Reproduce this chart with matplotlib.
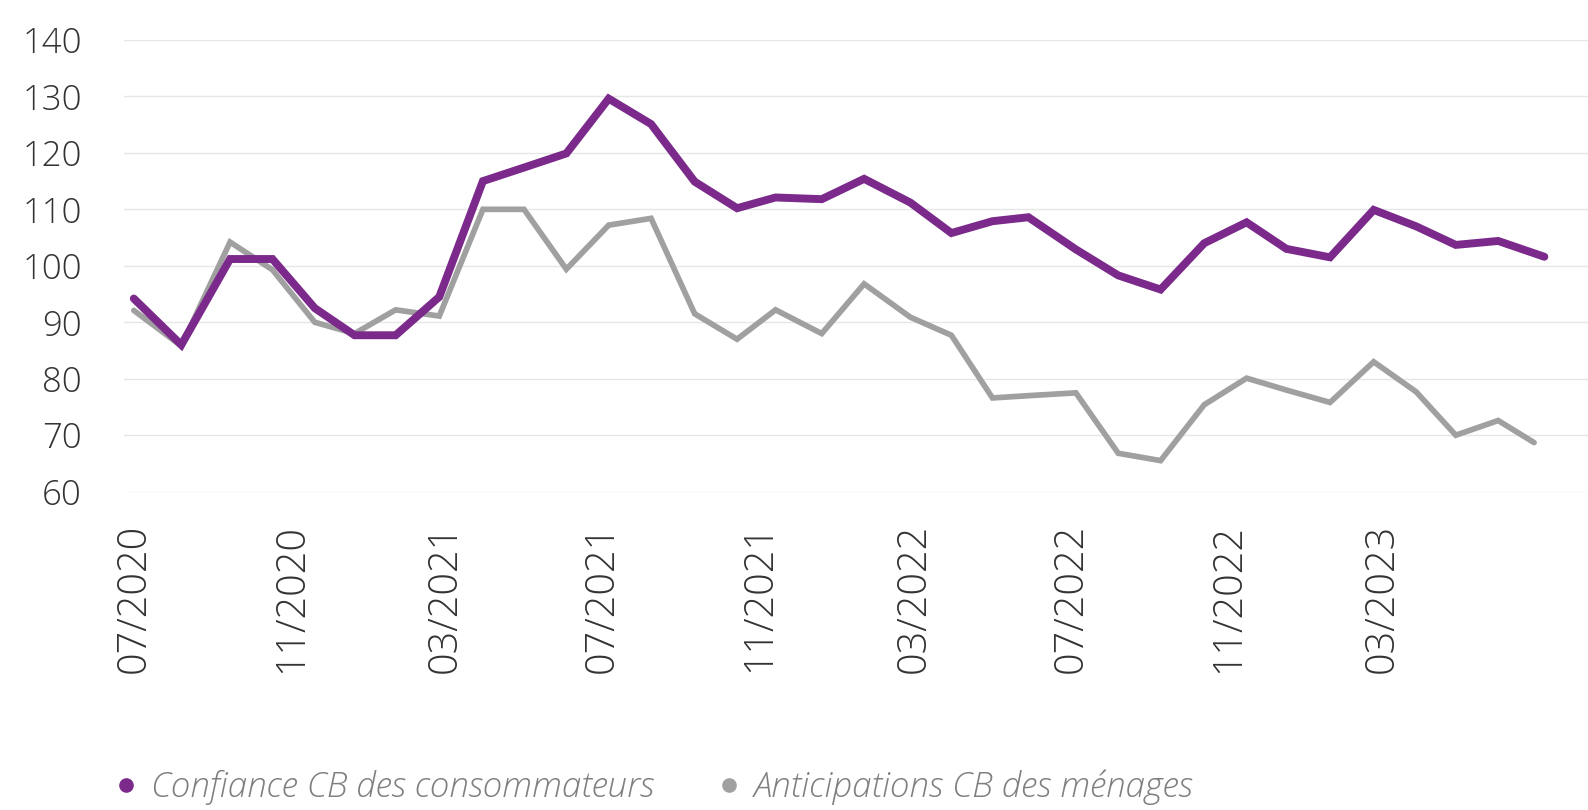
import pandas as pd
import matplotlib
matplotlib.use('Agg')
import matplotlib.pyplot as plt
import matplotlib.dates as mdates
from matplotlib.lines import Line2D

purple = '#7B2A8B'
grey = '#A0A0A0'

# dates (points are not evenly monthly)
dates = ['2020-07-01', '2020-08-07', '2020-09-14', '2020-10-17', '2020-11-19', '2020-12-20',
         '2021-01-21', '2021-02-24', '2021-03-30', '2021-05-01', '2021-06-03', '2021-07-06',
         '2021-08-08', '2021-09-11', '2021-10-14', '2021-11-13', '2021-12-19', '2022-01-21',
         '2022-02-26', '2022-03-30', '2022-05-01', '2022-05-29', '2022-07-05', '2022-08-07',
         '2022-09-09', '2022-10-13', '2022-11-15', '2022-12-16', '2023-01-19', '2023-02-22',
         '2023-03-27', '2023-04-27', '2023-05-30']
last_date_conf = '2023-07-05'
last_date_antic = '2023-06-27'

confiance = [94.2, 86.0, 101.2, 101.2, 92.5, 87.7, 87.7, 94.5, 115.0, 117.4, 119.9, 129.6,
             125.1, 114.9, 110.2, 112.1, 111.8, 115.4, 111.2, 105.8, 107.9, 108.6, 102.9, 98.3,
             95.8, 104.0, 107.7, 103.0, 101.5, 109.9, 107.0, 103.7, 104.4, 101.6]
anticipations = [92.1, 85.8, 104.2, 99.3, 90.0, 88.0, 92.2, 91.1, 110.0, 110.0, 99.4, 107.2,
                 108.4, 91.5, 87.0, 92.2, 88.0, 96.8, 90.9, 87.7, 76.6, 77.0, 77.5, 66.8,
                 65.5, 75.4, 80.1, 78.0, 75.8, 83.0, 77.7, 70.0, 72.6, 68.7]

labels = ['Confiance CB des consommateurs', 'Anticipations CB des ménages']
yticks = [60, 70, 80, 90, 100, 110, 120, 130, 140]
xtick_dates = ['2020-07-01', '2020-11-01', '2021-03-01', '2021-07-01', '2021-11-01',
               '2022-03-01', '2022-07-01', '2022-11-01', '2023-03-01']

x_conf = pd.to_datetime(dates + [last_date_conf])
x_antic = pd.to_datetime(dates + [last_date_antic])

plt.rcParams['font.family'] = ['Open Sans', 'DejaVu Sans']

fig = plt.figure(figsize=(15.88, 8.10), dpi=100)
ax = fig.add_axes([0.0778, 0.393, 0.9222, 0.5577])

ax.plot(x_antic, anticipations, color=grey, lw=4.1, solid_capstyle='round', solid_joinstyle='miter', zorder=3)
ax.plot(x_conf, confiance, color=purple, lw=5.7, solid_capstyle='round', solid_joinstyle='miter', zorder=4)

ax.set_ylim(60, 140)
ax.set_yticks(yticks)
ax.set_xlim(pd.Timestamp('2020-06-23'), pd.Timestamp('2023-08-08'))
ax.set_xticks(pd.to_datetime(xtick_dates))
ax.xaxis.set_major_formatter(mdates.DateFormatter('%m/%Y'))

ax.grid(axis='y', color='#E6E6E6', lw=1.0)
ax.set_axisbelow(True)
for s in ax.spines.values():
    s.set_visible(False)

ax.tick_params(axis='y', length=0, pad=30, labelsize=25, labelcolor='#333333')
ax.tick_params(axis='x', length=0, pad=23, labelsize=28.5, labelcolor='#333333', labelrotation=90)
for t in ax.get_yticklabels() + ax.get_xticklabels():
    t.set_fontweight('light')

handles = [Line2D([], [], ls='none', marker='o', ms=9.5, color=purple),
           Line2D([], [], ls='none', marker='o', ms=9.5, color=grey)]
leg = fig.legend(handles, labels, loc='center left', bbox_to_anchor=(0.053, 0.028), ncol=2,
                 frameon=False, handlelength=0.6, handletextpad=0.4, columnspacing=1.85,
                 prop={'family': 'Open Sans', 'style': 'italic', 'size': 25.2, 'weight': 'light'})
for t in leg.get_texts():
    t.set_color('#7F7F7F')

fig.savefig('out.png', dpi=100)
